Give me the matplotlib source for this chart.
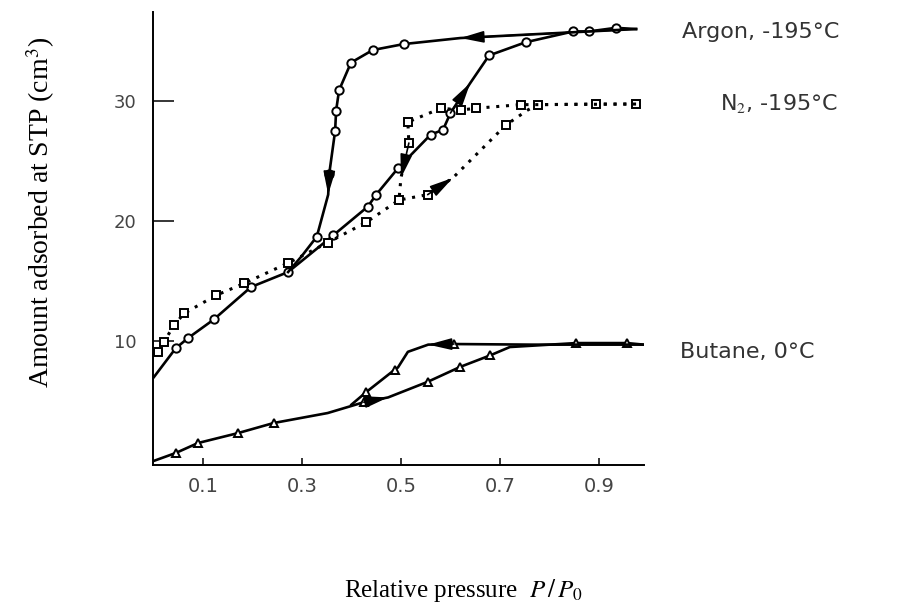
import matplotlib
matplotlib.use('Agg')
import matplotlib.pyplot as plt

# argon, -195 C  (circles, solid)
ar_ads_x = [0.001, 0.045, 0.07, 0.122, 0.197, 0.272, 0.363, 0.433, 0.45, 0.494,
            0.56, 0.585, 0.6, 0.64, 0.678, 0.752, 0.848, 0.88, 0.934, 0.975]
ar_ads_y = [7.0, 9.4, 10.25, 11.8, 14.5, 15.75, 18.8, 21.2, 22.2, 24.4,
            27.2, 27.6, 29.0, 31.5, 33.8, 34.9, 35.8, 35.8, 36.1, 36.0]
ar_ads_marks = [1, 2, 3, 4, 5, 6, 7, 8, 9, 10, 11, 12, 14, 15, 16, 17, 18]
ar_ads_arrows = [13]

ar_des_x = [0.975, 0.62, 0.506, 0.443, 0.399, 0.375, 0.369, 0.367, 0.355, 0.353, 0.33, 0.3, 0.272]
ar_des_y = [36.0, 35.25, 34.75, 34.25, 33.2, 30.9, 29.2, 27.5, 23.9, 22.2, 18.7, 17.1, 15.75]
ar_des_marks = [2, 3, 4, 5, 6, 7, 8, 10]
ar_des_arrows = [1, 9]

# nitrogen, -195 C  (squares, dotted)
n2_ads_x = [0.01, 0.021, 0.041, 0.062, 0.126, 0.183, 0.272, 0.352, 0.43, 0.496,
            0.554, 0.605, 0.712, 0.756, 0.777, 0.894, 0.975]
n2_ads_y = [9.1, 9.9, 11.3, 12.3, 13.8, 14.8, 16.5, 18.2, 19.9, 21.75,
            22.2, 23.6, 28.0, 29.25, 29.7, 29.75, 29.75]
n2_ads_marks = [0, 1, 2, 3, 4, 5, 6, 7, 8, 9, 10, 12, 14, 15, 16]
n2_ads_arrows = [11]

n2_des_x = [0.975, 0.777, 0.742, 0.652, 0.621, 0.581, 0.514, 0.516, 0.5, 0.496]
n2_des_y = [29.75, 29.7, 29.7, 29.4, 29.25, 29.4, 28.25, 26.5, 23.6, 21.75]
n2_des_marks = [2, 3, 4, 5, 6, 7]
n2_des_arrows = [8]

# butane, 0 C  (triangles, solid)
bu_ads_x = [0.0, 0.045, 0.09, 0.171, 0.243, 0.352, 0.425, 0.474, 0.554, 0.62,
            0.68, 0.72, 0.854, 0.957, 0.99]
bu_ads_y = [0.0, 0.67, 1.5, 2.33, 3.17, 4.0, 4.9, 5.3, 6.6, 7.85,
            8.8, 9.5, 9.83, 9.83, 9.7]
bu_ads_marks = [1, 2, 3, 4, 6, 8, 9, 10, 12, 13]
bu_ads_arrows = [7]

bu_des_x = [0.99, 0.763, 0.607, 0.555, 0.514, 0.494, 0.487, 0.43, 0.4]
bu_des_y = [9.7, 9.7, 9.75, 9.7, 9.1, 7.8, 7.6, 5.75, 4.7]
bu_des_marks = [2, 6, 7]
bu_des_arrows = [3]

xticks = [0.1, 0.3, 0.5, 0.7, 0.9]
yticks = [10, 20, 30]

labels = ['Argon, -195°C', 'N$_2$, -195°C', 'Butane, 0°C']

plt.rcParams['mathtext.fontset'] = 'stix'

fig = plt.figure(figsize=(9, 6.12), dpi=100)
ax = fig.add_axes([0.1705, 0.2408, 0.5445, 0.7392])

series = [
    (ar_ads_x, ar_ads_y, ar_ads_marks, ar_ads_arrows, 'o', '-'),
    (ar_des_x, ar_des_y, ar_des_marks, ar_des_arrows, 'o', '-'),
    (n2_ads_x, n2_ads_y, n2_ads_marks, n2_ads_arrows, 's', (0, (1, 2.2))),
    (n2_des_x, n2_des_y, n2_des_marks, n2_des_arrows, 's', (0, (1, 2.2))),
    (bu_ads_x, bu_ads_y, bu_ads_marks, bu_ads_arrows, '^', '-'),
    (bu_des_x, bu_des_y, bu_des_marks, bu_des_arrows, '^', '-'),
]

for xs, ys, marks, arrows, mk, ls in series:
    lw = 1.9 if ls == '-' else 2.2
    ax.plot(xs, ys, color='black', lw=lw, ls=ls, marker=mk, markevery=marks,
            ms=6, mfc='white', mec='black', mew=1.4, zorder=3)
    for i in arrows:
        ax.annotate('', xy=(xs[i], ys[i]), xytext=(xs[i - 1], ys[i - 1]),
                    arrowprops=dict(arrowstyle='-|>,head_length=1.2,head_width=0.3',
                                    color='black', lw=1.2, shrinkA=0, shrinkB=0,
                                    mutation_scale=12),
                    zorder=4)

ax.set_xlim(0, 0.99)
ax.set_ylim(-0.3, 37.4)
ax.spines['top'].set_visible(False)
ax.spines['right'].set_visible(False)
ax.spines['left'].set_linewidth(1.4)
ax.spines['bottom'].set_linewidth(1.4)

ax.set_xticks(xticks)
ax.set_xticklabels([str(t) for t in xticks])
ax.set_yticks(yticks)
ax.tick_params(axis='y', direction='in', length=15, width=1.1, pad=12,
               labelsize=13, labelcolor='#444')
ax.tick_params(axis='x', direction='in', length=5, width=1.1, pad=9,
               labelsize=14, labelcolor='#444')
for lab in ax.get_xticklabels() + ax.get_yticklabels():
    lab.set_family('DejaVu Sans')

fig.text(682 / 900, 1 - 32 / 612, labels[0], fontsize=16, color='#333',
         family='DejaVu Sans', va='center', ha='left')
fig.text(720 / 900, 1 - 103 / 612, labels[1], fontsize=16, color='#333',
         family='DejaVu Sans', va='center', ha='left')
fig.text(680 / 900, 1 - 352 / 612, labels[2], fontsize=16, color='#333',
         family='DejaVu Sans', va='center', ha='left')

fig.text(41 / 900, 1 - 212 / 612, 'Amount adsorbed at STP (cm$^3$)', rotation=90,
         fontsize=20, family='Liberation Serif', ha='center', va='center')
fig.text(464 / 900, 1 - 590 / 612, 'Relative pressure  $P\\,/\\,P_0$',
         fontsize=18, family='Liberation Serif', ha='center', va='center')

fig.savefig('out.png', dpi=100)
